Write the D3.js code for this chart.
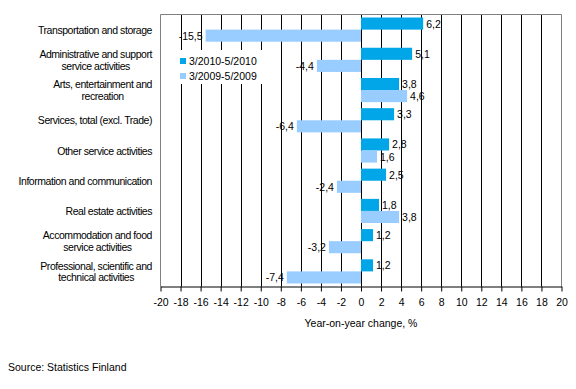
<!DOCTYPE html>
<html><head><meta charset="utf-8">
<script src="https://cdn.jsdelivr.net/npm/d3@7"></script>
<style>body{margin:0;background:#fff;} text{font-family:"Liberation Sans",Arial,sans-serif;font-size:10.5px;fill:#000;}</style>
</head><body><svg id="c" width="576" height="389"></svg>
<script>
const categories = [
  ["Transportation and storage"],
  ["Administrative and support","service activities"],
  ["Arts, entertainment and","recreation"],
  ["Services, total (excl. Trade)"],
  ["Other service activities"],
  ["Information and communication"],
  ["Real estate activities"],
  ["Accommodation and food","service activities"],
  ["Professional, scientific and","technical activities"]
];
const series2010 = [6.2, 5.1, 3.8, 3.3, 2.8, 2.5, 1.8, 1.2, 1.2];
const series2009 = [-15.5, -4.4, 4.6, -6.4, 1.6, -2.4, 3.8, -3.2, -7.4];
const seriesNames = ["3/2010-5/2010", "3/2009-5/2009"];
const colors = ["#00A6E8", "#99CCFF"];
const ticks = d3.range(-20, 21, 2);

const svg = d3.select("#c");
const L = 160.5, R = 561.5, T = 14.5, B = 286.5;
const x = d3.scaleLinear().domain([-20, 20]).range([L, R]);
const y = d3.scaleBand().domain(d3.range(categories.length)).range([T, B]).paddingInner(0.2).paddingOuter(0.1);
const fmt = v => String(v).replace(".", ",");

// gridlines
svg.append("g").selectAll("line").data(ticks.filter(t => t > -20 && t < 20)).join("line")
  .attr("x1", d => Math.round(x(d)) + 0.5).attr("x2", d => Math.round(x(d)) + 0.5)
  .attr("y1", T).attr("y2", B).attr("stroke", "#000").attr("stroke-width", 1);
// border
svg.append("path").attr("d", `M${L},${B}V${T}H${R}V${B}`).attr("fill", "none").attr("stroke", "#808080");

const bh = y.bandwidth() / 2;
const data = [series2010, series2009];
data.forEach((s, si) => {
  const g = svg.append("g");
  g.selectAll("rect").data(s).join("rect")
    .attr("x", d => x(Math.min(0, d))).attr("width", d => Math.abs(x(d) - x(0)))
    .attr("y", (d, i) => y(i) + si * bh).attr("height", bh)
    .attr("fill", colors[si]);
  g.selectAll("text").data(s).join("text")
    .attr("x", d => d >= 0 ? x(d) + 3 : x(d) - 3)
    .attr("text-anchor", d => d >= 0 ? "start" : "end")
    .attr("y", (d, i) => y(i) + si * bh + bh / 2 + 4)
    .text(d => fmt(d));
});

// axis
const ax = svg.append("g").attr("transform", `translate(0,${B})`)
  .call(d3.axisBottom(x).tickValues(ticks).tickSize(5).tickSizeOuter(0).tickFormat(d => String(d)));
ax.select(".domain").attr("stroke", "#000");
ax.selectAll("line").attr("stroke", "#000");
ax.selectAll("text").attr("dy", "0.71em").attr("y", 12).style("font-size", "10.5px").style("font-family", '"Liberation Sans",Arial,sans-serif');

// category labels
categories.forEach((lines, i) => {
  const cy = y(i) + y.bandwidth() / 2;
  const n = lines.length;
  const t = svg.append("text").attr("class", "cat").style("letter-spacing", "-0.45px");
  lines.forEach((ln, j) => {
    t.append("tspan").attr("x", 152).attr("text-anchor", j === 0 ? "end" : "middle")
      .attr("y", cy + 4 + (j - (n - 1) / 2) * 11.5).text(ln);
  });
});
svg.selectAll("text.cat").each(function(){
  const tsp = d3.select(this).selectAll("tspan").nodes();
  if (tsp.length === 2) {
    const w = tsp[0].getComputedTextLength();
    d3.select(tsp[1]).attr("x", 152 - w / 2);
  }
});

// legend
svg.append("rect").attr("x", 177).attr("y", 50).attr("width", 88).attr("height", 34).attr("fill", "#fff");
seriesNames.forEach((nm, i) => {
  svg.append("rect").attr("x", 180).attr("y", 58 + i * 15).attr("width", 6).attr("height", 6).attr("fill", colors[i]);
  svg.append("text").attr("x", 189).attr("y", 65 + i * 15).text(nm);
});

svg.append("text").attr("x", x(0)).attr("y", 327).attr("text-anchor", "middle").text("Year-on-year change, %");
svg.append("text").attr("x", 8).attr("y", 371).text("Source: Statistics Finland");
</script></body></html>
